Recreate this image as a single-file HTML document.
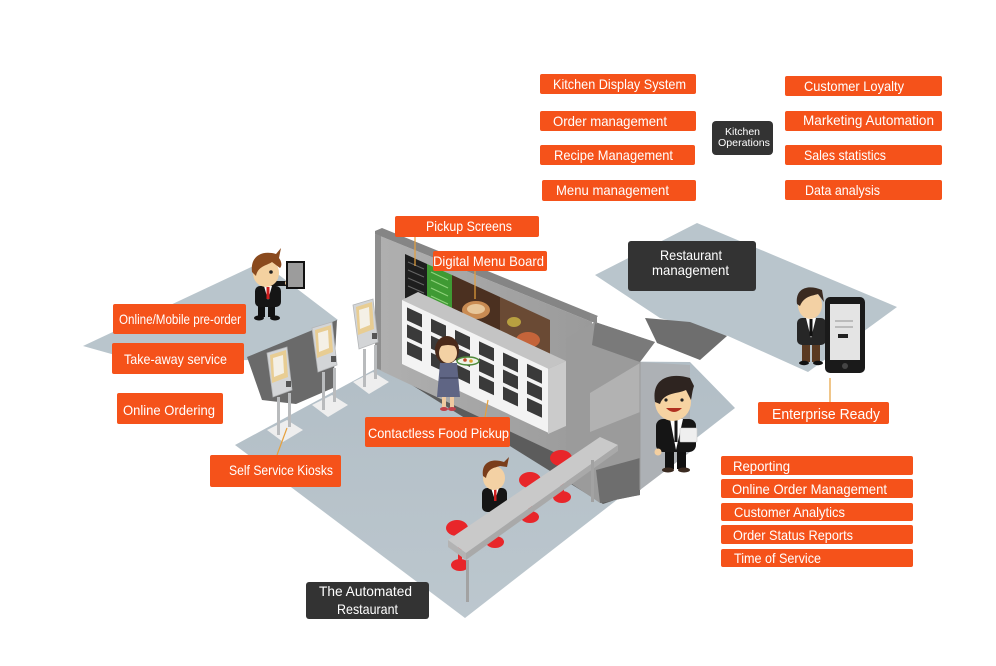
<!DOCTYPE html>
<html><head><meta charset="utf-8"><style>
html,body{margin:0;padding:0;background:#fff;width:996px;height:666px;overflow:hidden}
svg{display:block}
text{font-family:"Liberation Sans",sans-serif;fill:#fff}
</style></head><body>
<svg width="996" height="666" viewBox="0 0 996 666" xmlns="http://www.w3.org/2000/svg">
<defs>
<linearGradient id="wallg" x1="0" y1="0" x2="1" y2="0">
<stop offset="0" stop-color="#b0b0b0"/><stop offset="1" stop-color="#9a9a9a"/>
</linearGradient>
<linearGradient id="floorg" x1="0" y1="0" x2="0" y2="1">
<stop offset="0" stop-color="#b2bec6"/><stop offset="1" stop-color="#bcc7ce"/>
</linearGradient>
<g id="kiosk">
<polygon points="0,77 20,67 36,77 16,89" fill="#eeeeee"/>
<rect x="10" y="44" width="3" height="38" fill="#b9bbbd"/>
<rect x="21" y="40" width="3" height="34" fill="#b9bbbd"/>
<polygon points="0,0 20,-6 25,37 6,44" fill="#d3d5d7" stroke="#b4b6b8" stroke-width="0.8"/>
<polygon points="3,2 19,-3 21,24 5,30" fill="#e8cd93"/>
<polygon points="6,5 16,2 17,20 7,24" fill="#f4f0e6"/>
<rect x="19" y="28" width="5" height="6" fill="#555"/>
</g>
</defs>
<rect width="996" height="666" fill="#fff"/>

<!-- restaurant management platform -->
<polygon points="595,275 697,223 897,307 808,372 728,336 660,318" fill="#b9c5cc"/>
<polygon points="645,318 690,322 727,336 700,360 657,343" fill="#6e6e6e"/>

<!-- left platform -->
<polygon points="83,346 262,262 338,320 250,360 140,362" fill="#b9c5cc"/>
<polygon points="247,357 337,320 333,388 296,404 262,400" fill="#6a6a6a"/>

<!-- main floor -->
<polygon points="235,445 392,360 690,362 735,408 465,618" fill="url(#floorg)"/>
<polygon points="378,364 400,356 615,462 615,500 603,504" fill="#5c5c5c"/>

<!-- wall -->
<polygon points="375,234 592,322 592,470 375,368" fill="url(#wallg)"/>
<polygon points="375,231 382,228 598,316 592,322 375,234" fill="#858585"/>
<polygon points="375,234 381,236 381,370 375,368" fill="#8e8e8e"/>

<!-- screens -->
<polygon points="405,254 427,264 427,309 405,298" fill="#1e1e1e"/>
<g stroke="#666" stroke-width="1">
<line x1="408" y1="262" x2="424" y2="269"/><line x1="408" y1="270" x2="424" y2="277"/>
<line x1="408" y1="278" x2="424" y2="285"/><line x1="408" y1="286" x2="424" y2="293"/>
</g>
<polygon points="427,264 452,275 452,320 427,309" fill="#3f9a33"/>
<g stroke="#8fd27a" stroke-width="1.2">
<line x1="431" y1="272" x2="448" y2="280"/><line x1="431" y1="280" x2="448" y2="288"/>
<line x1="431" y1="288" x2="448" y2="296"/><line x1="431" y1="296" x2="448" y2="304"/>
</g>
<polygon points="452,275 500,297 500,342 452,320" fill="#4b3020"/>
<ellipse cx="476" cy="310" rx="14" ry="9" fill="#c98b52"/>
<ellipse cx="476" cy="309" rx="9" ry="5" fill="#e8c79a"/>
<polygon points="500,297 550,320 550,364 500,342" fill="#6a4a34"/>
<ellipse cx="528" cy="340" rx="12" ry="8" fill="#c4643a"/>
<ellipse cx="514" cy="322" rx="7" ry="5" fill="#b8a040"/>

<!-- locker -->
<polygon points="402,300 418,292 566,361 548,369" fill="#c4c4c4"/>
<polygon points="548,369 566,361 566,426 548,434" fill="#cbcbcb"/>
<g transform="matrix(1,0.47,0,1,402,300)">
<rect x="0" y="0" width="146" height="64" fill="#f3f3f3"/>
<g fill="#3a3a3a">
<rect x="5" y="5" width="15" height="13"/><rect x="5" y="22" width="15" height="13"/><rect x="5" y="39" width="15" height="13"/>
<rect x="29" y="5" width="15" height="13"/><rect x="29" y="22" width="15" height="13"/><rect x="29" y="39" width="15" height="13"/>
<rect x="53" y="5" width="15" height="13"/><rect x="53" y="22" width="15" height="13"/><rect x="53" y="39" width="15" height="13"/>
<rect x="77" y="5" width="15" height="13"/><rect x="77" y="22" width="15" height="13"/><rect x="77" y="39" width="15" height="13"/>
<rect x="101" y="5" width="15" height="13"/><rect x="101" y="22" width="15" height="13"/><rect x="101" y="39" width="15" height="13"/>
<rect x="125" y="5" width="15" height="13"/><rect x="125" y="22" width="15" height="13"/><rect x="125" y="39" width="15" height="13"/>
</g>
</g>

<!-- pillar / kitchen block -->
<polygon points="566,338 595,322 655,342 640,362 640,495 600,503 566,480" fill="#9b9b9b"/>
<polygon points="595,322 655,342 640,362 592,345" fill="#7a7a7a"/>
<polygon points="590,313 597,316 597,324 590,321" fill="#8a8a8a"/>
<polygon points="590,393 640,363 640,412 590,432" fill="#b2b2b2"/>
<polygon points="596,470 640,458 640,495 600,503" fill="#6e6e6e"/>
<polygon points="640,362 690,365 690,452 640,490" fill="#adb1b5"/>
<line x1="640" y1="362" x2="640" y2="490" stroke="#9a9a9a" stroke-width="1"/>

<!-- kiosks -->
<use href="#kiosk" transform="translate(353,305)"/>
<use href="#kiosk" transform="translate(312,328)"/>
<use href="#kiosk" transform="translate(267,353)"/>

<!-- man top-left with tablet -->
<rect x="258" y="304" width="7" height="13" fill="#111"/>
<rect x="268" y="304" width="7" height="13" fill="#111"/>
<ellipse cx="259" cy="318" rx="5" ry="2.5" fill="#111"/>
<ellipse cx="275" cy="318" rx="5" ry="2.5" fill="#111"/>
<rect x="255" y="286" width="26" height="21" rx="5" fill="#151515"/>
<polygon points="264,286 272,286 268,300" fill="#fff"/>
<rect x="266.5" y="287" width="3" height="12" fill="#d02020"/>
<rect x="270" y="281" width="18" height="5" fill="#151515"/>
<circle cx="288" cy="283" r="3" fill="#f3cfa0"/>
<ellipse cx="266" cy="273" rx="13" ry="14" fill="#f4d1a0"/>
<path d="M252,272 C250,256 262,250 276,254 L281,248 L279,258 C282,262 282,266 280,268 L272,262 C266,266 258,266 256,276 Z" fill="#8a4a1e"/>
<circle cx="271" cy="272" r="1.8" fill="#222"/>
<rect x="287" y="262" width="17" height="26" fill="#9c9c9c" stroke="#111" stroke-width="2"/>

<!-- woman -->
<ellipse cx="447" cy="350" rx="12" ry="14" fill="#4a2a1a"/>
<ellipse cx="448" cy="353" rx="9" ry="10" fill="#f3d1a4"/>
<path d="M437,348 C438,340 458,338 459,348 C452,344 444,344 437,348 Z" fill="#4a2a1a"/>
<path d="M440,363 L457,363 L460,397 L437,397 Z" fill="#5f6584"/>
<rect x="440" y="377" width="18" height="2" fill="#4a4f6a"/>
<rect x="442" y="397" width="4" height="11" fill="#efc9a0"/>
<rect x="450" y="397" width="4" height="11" fill="#efc9a0"/>
<ellipse cx="444" cy="409" rx="4" ry="2" fill="#c0404a"/>
<ellipse cx="452" cy="409" rx="4" ry="2" fill="#c0404a"/>
<ellipse cx="468" cy="361" rx="11" ry="4" fill="#eef3e6" stroke="#4e8a3a" stroke-width="1.5"/>
<circle cx="465" cy="360" r="1.8" fill="#c24a2a"/><circle cx="471" cy="361" r="1.8" fill="#d8a030"/>

<!-- stools -->
<g fill="#e8262a">
<rect x="458" y="528" width="4" height="36"/>
<ellipse cx="460" cy="565" rx="9" ry="6"/>
<ellipse cx="457" cy="528" rx="11" ry="8"/>
<ellipse cx="495" cy="542" rx="9" ry="6"/>
<rect x="528" y="480" width="4" height="36"/>
<ellipse cx="530" cy="517" rx="9" ry="6"/>
<ellipse cx="530" cy="480" rx="11" ry="8"/>
<rect x="560" y="458" width="4" height="38"/>
<ellipse cx="562" cy="497" rx="9" ry="6"/>
<ellipse cx="561" cy="458" rx="11" ry="8"/>
</g>

<!-- bar man -->
<rect x="482" y="488" width="25" height="24" rx="5" fill="#151515"/>
<polygon points="491,488 499,488 495,500" fill="#fff"/>
<rect x="494" y="489" width="2.5" height="12" fill="#d02020"/>
<ellipse cx="494" cy="478" rx="11" ry="12" fill="#f3d1a4"/>
<path d="M483,476 C481,462 492,458 504,462 L509,457 L507,467 L500,466 C494,468 488,468 486,478 Z" fill="#7a3d1a"/>

<!-- bar -->
<polygon points="448,540 600,437 618,445 466,553" fill="#c9c9c9"/>
<polygon points="466,553 618,445 618,451 466,560" fill="#a9a9a9"/>
<polygon points="448,540 466,553 466,560 448,547" fill="#b3b3b3"/>
<rect x="466" y="560" width="3" height="42" fill="#a2a2a2"/>
<rect x="591" y="460" width="3" height="42" fill="#a2a2a2"/>

<!-- smiling man -->
<rect x="665" y="450" width="9" height="19" fill="#111"/>
<rect x="677" y="450" width="9" height="19" fill="#111"/>
<ellipse cx="668" cy="470" rx="6" ry="2.5" fill="#3a2a20"/>
<ellipse cx="684" cy="470" rx="6" ry="2.5" fill="#3a2a20"/>
<rect x="656" y="419" width="40" height="33" rx="7" fill="#151515"/>
<polygon points="670,419 683,419 676,450" fill="#fff"/>
<rect x="674.5" y="420" width="3" height="22" fill="#151515"/>
<circle cx="658" cy="452" r="3.5" fill="#f3cfa0"/>
<rect x="680" y="428" width="17" height="14" rx="1" fill="#efefef" stroke="#ccc" stroke-width="0.6"/>
<ellipse cx="673" cy="402" rx="18" ry="19" fill="#f6d3a2"/>
<path d="M655,402 C651,378 670,372 690,378 L694,386 C692,392 692,396 691,400 L686,390 C678,394 664,392 660,404 Z" fill="#2e2420"/>
<path d="M666,408 Q674,416 682,408 Z" fill="#b03020"/>
<circle cx="666" cy="400" r="1.6" fill="#222"/><circle cx="682" cy="400" r="1.6" fill="#222"/>

<!-- phone man -->
<rect x="802" y="341" width="8" height="21" fill="#5a3a22"/>
<rect x="812" y="341" width="8" height="21" fill="#5a3a22"/>
<ellipse cx="804" cy="363" rx="5" ry="2.2" fill="#111"/>
<ellipse cx="818" cy="363" rx="5" ry="2.2" fill="#111"/>
<rect x="797" y="318" width="29" height="27" rx="5" fill="#262626"/>
<polygon points="806,318 816,318 811,338" fill="#fff"/>
<rect x="809.5" y="319" width="3" height="17" fill="#111"/>
<ellipse cx="810" cy="305" rx="12" ry="14" fill="#f3d1a4"/>
<path d="M797,304 C795,288 808,284 822,290 L824,302 L818,294 C812,296 804,296 800,306 Z" fill="#3a2a20"/>
<rect x="825" y="297" width="40" height="76" rx="5" fill="#1a1a1a"/>
<rect x="830" y="304" width="30" height="56" fill="#e4e4e4"/>
<rect x="835" y="320" width="18" height="2" fill="#bbb"/>
<rect x="835" y="326" width="18" height="2" fill="#bbb"/>
<rect x="838" y="334" width="10" height="4" fill="#222"/>
<circle cx="845" cy="366" r="3" fill="#444"/>

<!-- connector lines -->
<g stroke="#e6a03c" stroke-width="1.2">
<line x1="415" y1="237" x2="415" y2="266"/>
<line x1="475" y1="271" x2="475" y2="299"/>
<line x1="488" y1="400" x2="485" y2="417"/>
<line x1="287" y1="428" x2="277" y2="455"/>
<line x1="830" y1="378" x2="830" y2="402"/>
</g>

<!-- orange labels -->
<g fill="#f5521a">
<rect x="540" y="74" width="156" height="20" rx="2"/>
<rect x="540" y="111" width="156" height="20" rx="2"/>
<rect x="540" y="145" width="155" height="20" rx="2"/>
<rect x="542" y="180" width="154" height="21" rx="2"/>
<rect x="785" y="76" width="157" height="20" rx="2"/>
<rect x="785" y="111" width="157" height="20" rx="2"/>
<rect x="785" y="145" width="157" height="20" rx="2"/>
<rect x="785" y="180" width="157" height="20" rx="2"/>
<rect x="395" y="216" width="144" height="21" rx="2"/>
<rect x="433" y="251" width="114" height="20" rx="2"/>
<rect x="113" y="304" width="133" height="30" rx="2"/>
<rect x="112" y="343" width="132" height="31" rx="2"/>
<rect x="117" y="393" width="106" height="31" rx="2"/>
<rect x="210" y="455" width="131" height="32" rx="2"/>
<rect x="365" y="417" width="145" height="30" rx="2"/>
<rect x="758" y="402" width="131" height="22" rx="2"/>
<rect x="721" y="456" width="192" height="19" rx="2"/>
<rect x="721" y="479" width="192" height="19" rx="2"/>
<rect x="721" y="503" width="192" height="18" rx="2"/>
<rect x="721" y="525" width="192" height="19" rx="2"/>
<rect x="721" y="549" width="192" height="18" rx="2"/>
</g>
<g fill="#333">
<rect x="712" y="121" width="61" height="34" rx="4"/>
<rect x="628" y="241" width="128" height="50" rx="3"/>
<rect x="306" y="582" width="123" height="37" rx="3"/>
</g>

<g font-size="14">
<text x="553" y="89" textLength="133" lengthAdjust="spacingAndGlyphs">Kitchen Display System</text>
<text x="553" y="126" textLength="114" lengthAdjust="spacingAndGlyphs">Order management</text>
<text x="554" y="160" textLength="119" lengthAdjust="spacingAndGlyphs">Recipe Management</text>
<text x="556" y="195" textLength="113" lengthAdjust="spacingAndGlyphs">Menu management</text>
<text x="804" y="91" textLength="100" lengthAdjust="spacingAndGlyphs">Customer Loyalty</text>
<text x="803" y="125" textLength="131" lengthAdjust="spacingAndGlyphs">Marketing Automation</text>
<text x="804" y="160" textLength="82" lengthAdjust="spacingAndGlyphs">Sales statistics</text>
<text x="805" y="195" textLength="75" lengthAdjust="spacingAndGlyphs">Data analysis</text>
<text x="426" y="231" textLength="86" lengthAdjust="spacingAndGlyphs">Pickup Screens</text>
<text x="433" y="266" textLength="111" lengthAdjust="spacingAndGlyphs">Digital Menu Board</text>
<text x="119" y="324" textLength="122" lengthAdjust="spacingAndGlyphs">Online/Mobile pre-order</text>
<text x="124" y="364" textLength="103" lengthAdjust="spacingAndGlyphs">Take-away service</text>
<text x="123" y="415" textLength="92" lengthAdjust="spacingAndGlyphs">Online Ordering</text>
<text x="229" y="475" textLength="104" lengthAdjust="spacingAndGlyphs">Self Service Kiosks</text>
<text x="368" y="438" textLength="141" lengthAdjust="spacingAndGlyphs">Contactless Food Pickup</text>
<text x="660" y="260" textLength="62" lengthAdjust="spacingAndGlyphs">Restaurant</text>
<text x="652" y="275" textLength="77" lengthAdjust="spacingAndGlyphs">management</text>
<text x="733" y="471" textLength="57" lengthAdjust="spacingAndGlyphs">Reporting</text>
<text x="732" y="494" textLength="155" lengthAdjust="spacingAndGlyphs">Online Order Management</text>
<text x="734" y="517" textLength="111" lengthAdjust="spacingAndGlyphs">Customer Analytics</text>
<text x="733" y="540" textLength="120" lengthAdjust="spacingAndGlyphs">Order Status Reports</text>
<text x="734" y="563" textLength="87" lengthAdjust="spacingAndGlyphs">Time of Service</text>
<text x="319" y="596" textLength="93" lengthAdjust="spacingAndGlyphs">The  Automated</text>
<text x="337" y="614" textLength="61" lengthAdjust="spacingAndGlyphs">Restaurant</text>
</g>
<text x="772" y="419" font-size="15" textLength="108" lengthAdjust="spacingAndGlyphs">Enterprise Ready</text>
<g font-size="10.5">
<text x="725" y="135" textLength="35" lengthAdjust="spacingAndGlyphs">Kitchen</text>
<text x="718" y="146" textLength="52" lengthAdjust="spacingAndGlyphs">Operations</text>
</g>
</svg>
</body></html>
